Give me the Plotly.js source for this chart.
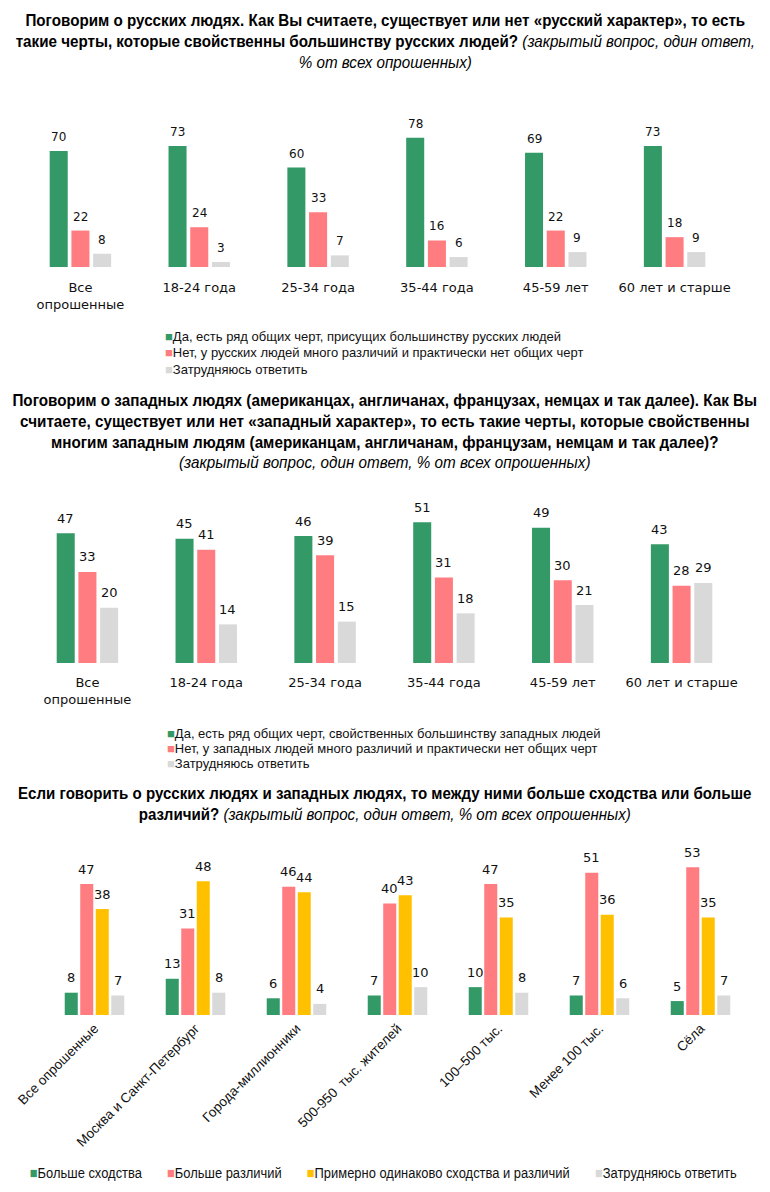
<!DOCTYPE html>
<html><head><meta charset="utf-8">
<script src="https://cdn.plot.ly/plotly-3.0.1.min.js"></script>
<style>
body{margin:0;background:#fff;width:770px;height:1192px;overflow:hidden;position:relative}
.p{position:absolute;left:0;width:770px}
</style>
</head><body>
<div id="c1" class="p" style="top:0;height:380px"></div>
<div id="c2" class="p" style="top:380px;height:395px"></div>
<div id="c3" class="p" style="top:775px;height:417px"></div>
<script>
// ---------- DATA ----------
const ageCats = ['Все<br>опрошенные', '18-24 года', '25-34 года', '35-44 года', '45-59 лет', '60 лет и старше'];

const rusYes  = [70, 73, 60, 78, 69, 73];
const rusNo   = [22, 24, 33, 16, 22, 18];
const rusHard = [8, 3, 7, 6, 9, 9];
const rusNames = [
  'Да, есть ряд общих черт, присущих большинству русских людей',
  'Нет, у русских людей много различий и практически нет общих черт',
  'Затрудняюсь ответить'
];

const westYes  = [47, 45, 46, 51, 49, 43];
const westNo   = [33, 41, 39, 31, 30, 28];
const westHard = [20, 14, 15, 18, 21, 29];
const westNames = [
  'Да, есть ряд общих черт, свойственных большинству западных людей',
  'Нет, у западных людей много различий и практически нет общих черт',
  'Затрудняюсь ответить'
];

const settleCats = ['Все опрошенные', 'Москва и Санкт-Петербург', 'Города-миллионники', '500-950  тыс. жителей', '100–500 тыс.', 'Менее 100 тыс.', 'Сёла'];
const simMore  = [8, 13, 6, 7, 10, 7, 5];
const diffMore = [47, 31, 46, 40, 47, 51, 53];
const equalSD  = [38, 48, 44, 43, 35, 36, 35];
const hardSD   = [7, 8, 4, 10, 8, 6, 7];
const settleNames = ['Больше сходства', 'Больше различий', 'Примерно одинаково сходства и различий', 'Затрудняюсь ответить'];

const title1 = '<b>Поговорим о русских людях. Как Вы считаете, существует или нет «русский характер», то есть<br>такие черты, которые свойственны большинству русских людей?</b> <i>(закрытый вопрос, один ответ,<br>% от всех опрошенных)</i>';
const title2 = '<b>Поговорим о западных людях (американцах, англичанах, французах, немцах и так далее). Как Вы<br>считаете, существует или нет «западный характер», то есть такие черты, которые свойственны<br>многим западным людям (американцам, англичанам, французам, немцам и так далее)?</b><br><i>(закрытый вопрос, один ответ, % от всех опрошенных)</i>';
const title3 = '<b>Если говорить о русских людях и западных людях, то между ними больше сходства или больше<br>различий?</b> <i>(закрытый вопрос, один ответ, % от всех опрошенных)</i>';

// ---------- STYLE ----------
const GREEN = '#339966', PINK = '#FF7C80', GREY = '#D9D9D9', YELLOW = '#FFC000';
const SANS = '"Liberation Sans", Arial, sans-serif';

// squeeze a rendered annotation text horizontally to imitate a condensed face
function condense(gd, index, targetWidth) {
  const g = gd.querySelector('g.annotation[data-index="' + index + '"] text.annotation-text');
  if (!g) return;
  const bb = g.getBBox();
  const s = Math.min(1, targetWidth / bb.width);
  const cx = bb.x + bb.width / 2;
  g.setAttribute('transform', 'translate(' + cx + ',0) scale(' + s + ',1) translate(' + (-cx) + ',0)');
}

function makeChart(id, cfg) {
  const W = 770, H = cfg.H, m = cfg.margin;
  const pw = W - m.l - m.r, ph = H - m.t - m.b;
  const px = x => (x - m.l) / pw, py = y => (H - m.b - y) / ph;
  const n = cfg.series.length;
  const traces = cfg.series.map((vals, k) => ({
    type: 'bar', x: cfg.cats, y: vals, name: cfg.names[k],
    marker: {color: cfg.colors[k]}, showlegend: false, hoverinfo: 'skip'
  }));
  const ann = [];
  const gw = 1 - cfg.bargap;
  cfg.series.forEach((vals, k) => {
    const off = -gw / 2 + gw / n * (k + 0.5);
    vals.forEach((v, i) => ann.push({
      x: i + off, y: v, xref: 'x', yref: 'y', text: String(v), showarrow: false,
      yanchor: 'middle', yshift: cfg.labelShift,
      font: {family: 'DejaVu Sans, Verdana, sans-serif', size: cfg.labelSize, color: '#111'}
    }));
  });
  const titleIdx = ann.length;
  ann.push({
    x: px(cfg.titleX), y: py(cfg.titleY), xref: 'paper', yref: 'paper', xanchor: 'center', yanchor: 'middle',
    align: 'center', showarrow: false, text: cfg.title,
    font: {family: SANS, size: cfg.titleSize, color: '#000'}
  });
  let legIdx = -1;
  if (cfg.legendRows) {
    cfg.names.forEach((nm, k) => ann.push({
      x: px(cfg.legendX), y: py(cfg.legendY + k * cfg.legendStep), xref: 'paper', yref: 'paper',
      xanchor: 'left', yanchor: 'middle', showarrow: false, align: 'left',
      text: '<span style="color:' + cfg.colors[k] + '">■</span>' + nm,
      font: {family: SANS, size: cfg.legendSize, color: '#111'}
    }));
  } else {
    legIdx = ann.length;
    const txt = cfg.names.map((nm, k) => '<span style="color:' + cfg.colors[k] + '">■</span>' + nm).join('       ');
    ann.push({
      x: px(cfg.legendX), y: py(cfg.legendY), xref: 'paper', yref: 'paper',
      xanchor: 'center', yanchor: 'middle', showarrow: false,
      text: txt, font: {family: SANS, size: cfg.legendSize, color: '#111'}
    });
  }
  const layout = {
    width: W, height: H, margin: m, barmode: 'group',
    bargap: cfg.bargap, bargroupgap: cfg.groupgap,
    paper_bgcolor: '#fff', plot_bgcolor: '#fff', showlegend: false,
    xaxis: {type: 'category', showgrid: false, zeroline: false, showline: false, ticks: '',
      tickangle: cfg.tickangle, ticklabelstandoff: cfg.standoff,
      tickfont: {family: cfg.tickFamily, size: cfg.tickSize, color: '#111'}},
    yaxis: {range: [0, cfg.yMax], visible: false, showgrid: false, zeroline: false, fixedrange: true},
    annotations: ann
  };
  const gd = document.getElementById(id);
  Plotly.newPlot(gd, traces, layout, {staticPlot: true, displayModeBar: false}).then(() => {
    condense(gd, titleIdx, cfg.titleWidth);
    if (legIdx >= 0) condense(gd, legIdx, cfg.legendWidth);
  });
}

makeChart('c1', {
  H: 380, margin: {l: 21, r: 36, t: 100, b: 113}, yMax: 167 / 1.657,
  cats: ageCats, series: [rusYes, rusNo, rusHard], names: rusNames, colors: [GREEN, PINK, GREY],
  bargap: 0.452, groupgap: 0.17, labelShift: 14, labelSize: 12,
  title: title1, titleX: 385, titleY: 42, titleSize: 16, titleWidth: 740,
  tickangle: 0, standoff: 11, tickFamily: 'DejaVu Sans, Verdana, sans-serif', tickSize: 13,
  legendRows: true, legendX: 163, legendY: 336, legendStep: 16.5, legendSize: 13
});

makeChart('c2', {
  H: 395, margin: {l: 28, r: 29, t: 120, b: 112}, yMax: 163 / 2.76,
  cats: ageCats, series: [westYes, westNo, westHard], names: westNames, colors: [GREEN, PINK, GREY],
  bargap: 0.452, groupgap: 0.17, labelShift: 15, labelSize: 13,
  title: title2, titleX: 385, titleY: 51, titleSize: 16, titleWidth: 745,
  tickangle: 0, standoff: 10, tickFamily: 'DejaVu Sans, Verdana, sans-serif', tickSize: 13,
  legendRows: true, legendX: 165, legendY: 353, legendStep: 15, legendSize: 13
});

makeChart('c3', {
  H: 417, margin: {l: 44, r: 19, t: 70, b: 177}, yMax: 170 / 2.787,
  cats: settleCats, series: [simMore, diffMore, equalSD, hardSD], names: settleNames, colors: [GREEN, PINK, YELLOW, GREY],
  bargap: 0.386, groupgap: 0.16, labelShift: 15, labelSize: 13,
  title: title3, titleX: 385, titleY: 29, titleSize: 16, titleWidth: 734,
  tickangle: -45, standoff: 2, tickFamily: SANS, tickSize: 13.5,
  legendRows: false, legendX: 383, legendY: 397, legendSize: 15, legendWidth: 707
});
</script>
</body></html>
